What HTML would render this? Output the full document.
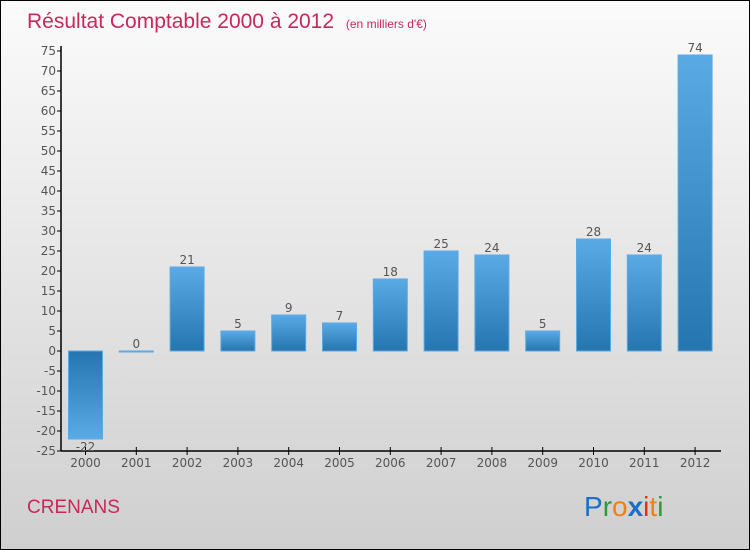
<!DOCTYPE html>
<html><head><meta charset="utf-8"><style>
body{margin:0;}
#c{position:relative;width:748px;height:548px;border:1px solid #000;background:linear-gradient(#fbfbfb,#cfcfcf);overflow:hidden;font-family:"DejaVu Sans","Liberation Sans",sans-serif;}
</style></head><body>
<div id="c">
<svg id="s" width="748" height="548" style="position:absolute;left:0;top:0">
<defs>
<linearGradient id="gp" x1="0" y1="0" x2="0" y2="1"><stop offset="0" stop-color="#5aaae6"/><stop offset="1" stop-color="#2475b0"/></linearGradient>
<linearGradient id="gn" x1="0" y1="0" x2="0" y2="1"><stop offset="0" stop-color="#2475b0"/><stop offset="1" stop-color="#5aaae6"/></linearGradient>
</defs>
<text x="26" y="27" font-size="21" fill="#c8285a" font-family="Liberation Sans, sans-serif">Résultat Comptable 2000 à 2012 <tspan font-size="12" dx="6">(en milliers d'€)</tspan></text>
<text x="26" y="512" font-size="19" fill="#c8285a" font-family="Liberation Sans, sans-serif">CRENANS</text>
<text x="583" y="515" font-size="28" font-family="Liberation Sans, sans-serif"><tspan fill="#1a6fc8">P</tspan><tspan fill="#2a9a3a">r</tspan><tspan fill="#f08010">o</tspan><tspan fill="#1a6fc8" font-weight="bold">x</tspan><tspan fill="#e03020">i</tspan><tspan fill="#f08010">t</tspan><tspan fill="#2a9a3a">i</tspan></text>
<g id="g"></g>
</svg>
</div>
<script>
const years=["2000","2001","2002","2003","2004","2005","2006","2007","2008","2009","2010","2011","2012"];
const values=[-22,0,21,5,9,7,18,25,24,5,28,24,74];
const ticks=[-25,-20,-15,-10,-5,0,5,10,15,20,25,30,35,40,45,50,55,60,65,70,75];
const NS="http://www.w3.org/2000/svg";
const g=document.getElementById('g');
const y=v=>350-v*4;
const x=i=>84.5+i*50.8;
function mk(t,a){const e=document.createElementNS(NS,t);for(const k in a)e.setAttribute(k,a[k]);g.appendChild(e);return e;}
let ax=mk('line',{x1:60,y1:45,x2:60,y2:450,stroke:'#000','stroke-width':1.5});

let bx=mk('line',{x1:60,y1:450,x2:720,y2:450,stroke:'#000','stroke-width':1.5});

ticks.forEach(t=>{
 mk('line',{x1:56,x2:60,y1:y(t),y2:y(t),stroke:'#000'});
 const tx=mk('text',{x:55,y:y(t)+4,'text-anchor':'end','font-size':12,fill:'#555'});
 tx.textContent=t<0?'-'+Math.abs(t):t;
 
});
values.forEach((v,i)=>{
 const cx=x(i);
 mk('line',{x1:cx,x2:cx,y1:446,y2:454,stroke:'#000'});
 const lt=mk('text',{x:cx,y:466,'text-anchor':'middle','font-size':12,fill:'#555'});lt.textContent=years[i];
 
 const top=Math.min(y(v),y(0)),h=Math.max(Math.abs(y(v)-y(0)),1);
 const r=mk('rect',{x:cx-17,y:top,width:34,height:h,fill:v<0?'url(#gn)':'url(#gp)',stroke:'#5aaae6','stroke-width':1});
 
 const vt=mk('text',{x:cx,y:v<0?y(v)+12:y(v)-3,'text-anchor':'middle','font-size':12,fill:'#555'});vt.textContent=v;
 
});
</script>
</body></html>
